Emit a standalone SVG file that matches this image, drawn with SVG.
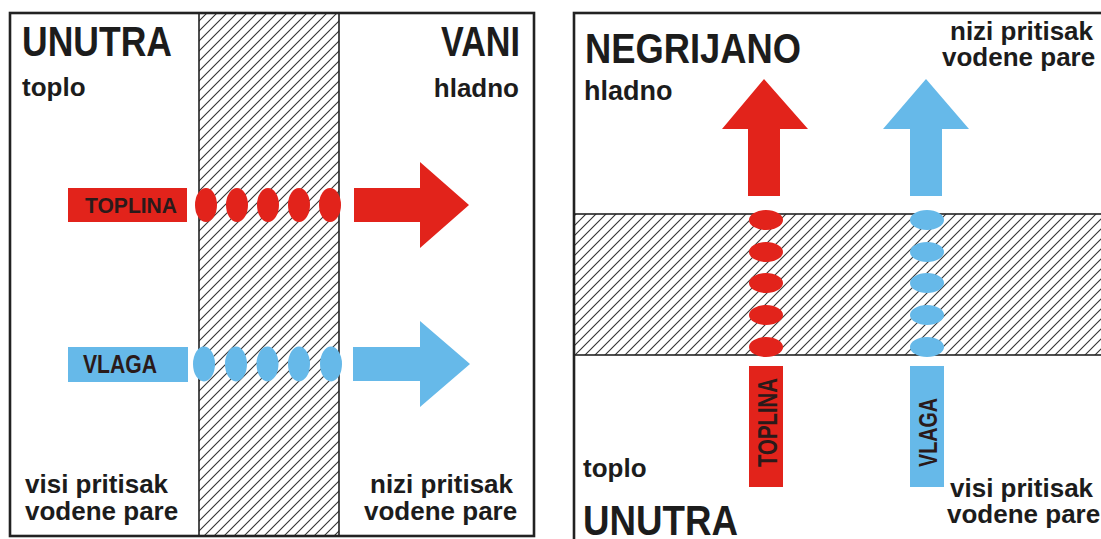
<svg xmlns="http://www.w3.org/2000/svg" width="1101" height="539" viewBox="0 0 1101 539">
  <style>
    .frame { fill: none; stroke: #222; stroke-width: 2.6; }
    .wall { fill: url(#hatch); stroke: #222; stroke-width: 1.6; }
    .red { fill: #E2231B; }
    .blue { fill: #66B9E9; }
    .txt { font-family: "Liberation Sans", Arial, sans-serif; font-weight: bold; fill: #1c1c1c; }
    .small { font-size: 26px; }
    .big { font-size: 43px; }
    .tag { font-family: "Liberation Sans", Arial, sans-serif; font-weight: bold; fill: #2a1a1a; }
  </style>
  <defs>
    <pattern id="hatch" patternUnits="userSpaceOnUse" width="10" height="10">
      <rect width="10" height="10" fill="#fff"/>
      <path d="M0,10 L10,0 M-2.5,2.5 L2.5,-2.5 M7.5,12.5 L12.5,7.5" stroke="#333" stroke-width="1.1"/>
    </pattern>
  </defs>
  <rect width="1101" height="539" fill="#fff"/>

  <!-- LEFT PANEL -->
  <g id="left-panel">
    <rect id="left-wall" class="wall" x="199" y="13" width="140" height="523"/>
    <rect class="frame" x="10" y="13" width="524" height="523"/>
    <g id="left-texts">
      <text class="txt big" x="22" y="56" textLength="150" lengthAdjust="spacingAndGlyphs">UNUTRA</text>
      <text class="txt small" x="22" y="96">toplo</text>
      <text class="txt big" x="441" y="56" textLength="79" lengthAdjust="spacingAndGlyphs">VANI</text>
      <text class="txt small" x="519" y="97" text-anchor="end">hladno</text>
      <text class="txt small" x="25" y="493">visi pritisak</text>
      <text class="txt small" x="25" y="520">vodene pare</text>
      <text class="txt small" x="370" y="493">nizi pritisak</text>
      <text class="txt small" x="364" y="520">vodene pare</text>
    </g>
    <g id="left-toplina">
      <rect class="red" x="68" y="188" width="119" height="34"/>
      <text class="tag" x="85" y="213" font-size="22" textLength="92" lengthAdjust="spacingAndGlyphs">TOPLINA</text>
      <ellipse class="red" cx="206" cy="205" rx="11" ry="17"/>
      <ellipse class="red" cx="237" cy="205" rx="11" ry="17"/>
      <ellipse class="red" cx="268" cy="205" rx="11" ry="17"/>
      <ellipse class="red" cx="299" cy="205" rx="11" ry="17"/>
      <ellipse class="red" cx="330" cy="205" rx="11" ry="17"/>
    </g>
    <g id="left-vlaga">
      <rect class="blue" x="68" y="347" width="120" height="35"/>
      <text class="tag" x="83" y="373" font-size="26" textLength="74" lengthAdjust="spacingAndGlyphs">VLAGA</text>
      <ellipse class="blue" cx="204" cy="364" rx="11" ry="17.5"/>
      <ellipse class="blue" cx="236" cy="364" rx="11" ry="17.5"/>
      <ellipse class="blue" cx="267.5" cy="364" rx="11" ry="17.5"/>
      <ellipse class="blue" cx="299" cy="364" rx="11" ry="17.5"/>
      <ellipse class="blue" cx="331" cy="364" rx="11" ry="17.5"/>
    </g>
  </g>

  <!-- RIGHT PANEL -->
  <g id="right-panel">
    <rect id="right-wall" class="wall" x="574" y="214" width="540" height="141"/>
    <rect class="frame" x="574" y="13" width="600" height="600"/>
    <g id="right-texts">
      <text class="txt big" x="585" y="63" font-size="45" textLength="216" lengthAdjust="spacingAndGlyphs">NEGRIJANO</text>
      <text class="txt" x="584" y="100" font-size="27">hladno</text>
      <text class="txt small" x="950" y="40">nizi pritisak</text>
      <text class="txt small" x="942" y="66">vodene pare</text>
      <text class="txt small" x="583" y="477">toplo</text>
      <text class="txt big" x="583" y="535" font-size="45" textLength="155" lengthAdjust="spacingAndGlyphs">UNUTRA</text>
      <text class="txt small" x="950" y="497">visi pritisak</text>
      <text class="txt small" x="947" y="523">vodene pare</text>
    </g>
    <g id="right-toplina">
      <rect class="red" x="749" y="366" width="34" height="121"/>
      <text class="tag" transform="translate(777,467) rotate(-90)" x="0" y="0" font-size="27" textLength="89" lengthAdjust="spacingAndGlyphs">TOPLINA</text>
      <ellipse class="red" cx="766" cy="220" rx="17" ry="10"/>
      <ellipse class="red" cx="766" cy="252" rx="17" ry="10"/>
      <ellipse class="red" cx="766" cy="283" rx="17" ry="10"/>
      <ellipse class="red" cx="766" cy="315" rx="17" ry="10"/>
      <ellipse class="red" cx="766" cy="347" rx="17" ry="10"/>
    </g>
    <g id="right-vlaga">
      <rect class="blue" x="910" y="366" width="34" height="121"/>
      <text class="tag" transform="translate(937,467) rotate(-90)" x="0" y="0" font-size="26" textLength="69" lengthAdjust="spacingAndGlyphs">VLAGA</text>
      <ellipse class="blue" cx="927" cy="220" rx="17" ry="10"/>
      <ellipse class="blue" cx="927" cy="252" rx="17" ry="10"/>
      <ellipse class="blue" cx="927" cy="283" rx="17" ry="10"/>
      <ellipse class="blue" cx="927" cy="315" rx="17" ry="10"/>
      <ellipse class="blue" cx="927" cy="347" rx="17" ry="10"/>
    </g>
  </g>

  <!-- Block arrows -->
  <g id="connectors">
    <polygon id="arrow-heat-right" class="red" points="354,188 420,188 420,162 469,205 420,248 420,222 354,222"/>
    <polygon id="arrow-vapour-right" class="blue" points="353,347 420,347 420,321 470,364 420,407 420,381 353,381"/>
    <polygon id="arrow-heat-up" class="red" points="748,196 748,129 722,129 764,79 808,129 780,129 780,196"/>
    <polygon id="arrow-vapour-up" class="blue" points="910,196 910,129 883,129 926,79 969,129 942,129 942,196"/>
  </g>
</svg>
